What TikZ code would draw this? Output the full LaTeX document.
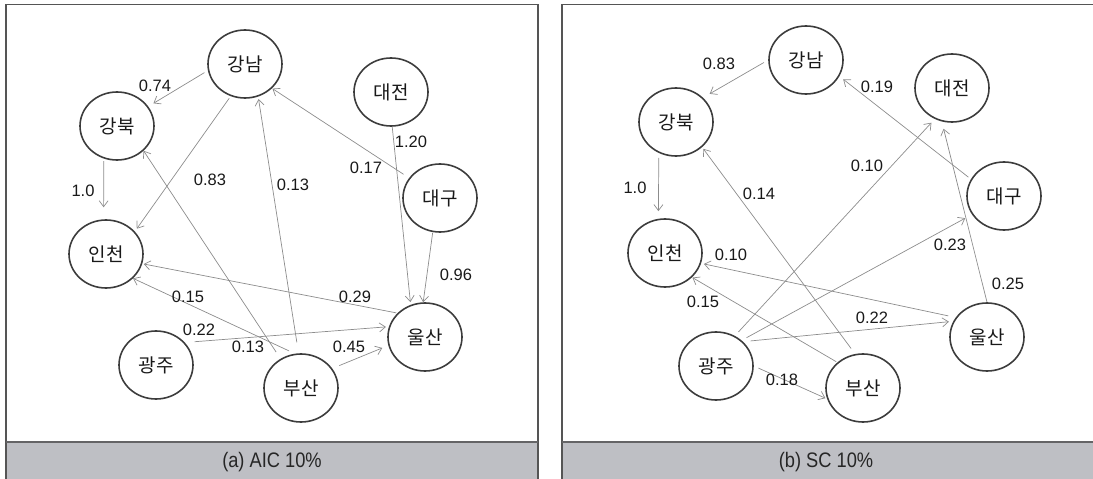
\documentclass[tikz,border=0pt]{standalone}
\usepackage{fontspec}
\setmainfont{Liberation Sans}
\newfontfamily\krfont{Noto Sans CJK KR}
\usetikzlibrary{arrows.meta,shapes.geometric}
\definecolor{edgegray}{RGB}{140,140,140}
\definecolor{circgray}{RGB}{60,60,60}
\definecolor{framegray}{RGB}{85,85,85}
\definecolor{bandgray}{RGB}{190,191,196}
\definecolor{bandline}{RGB}{100,100,102}
\definecolor{inkgray}{RGB}{25,25,25}
\newcommand{\captext}[1]{\scalebox{0.87}[1]{#1}}
\begin{document}
\begin{tikzpicture}[x=1pt,y=-1pt,
  city/.style={ellipse, draw=circgray, line width=1.6pt, minimum width=74pt,
    minimum height=68pt, inner sep=0pt, text=inkgray,
    font=\krfont\fontsize{19}{19}\selectfont},
  link/.style={draw=edgegray, line width=0.7pt,
    -{Straight Barb[length=6pt,width=9pt]}},
  wt/.style={inner sep=0pt, text=inkgray, font=\fontsize{16.5}{16.5}\selectfont},
  caption/.style={inner sep=0pt, text=black!85, font=\fontsize{21}{21}\selectfont},
  frame/.style={draw=framegray, line width=1.5pt}
]
\useasboundingbox (0,0) rectangle (1093,479);
\clip (0,0) rectangle (1093,479);

% panel frames and caption bands
\fill[bandgray] (6,442) rectangle (538,495);
\draw[frame] (6,495) -- (6,4.5) -- (538,4.5) -- (538,495);
\draw[bandline, line width=1.2pt] (6,442) -- (538,442);
\fill[bandgray] (562,442) rectangle (1100,495);
\draw[frame] (562,495) -- (562,4.5) -- (1100,4.5);
\draw[bandline, line width=1.2pt] (562,442) -- (1100,442);

\node[caption] (capa) at (272,462.5) {\captext{(a) AIC 10\%}};
\node[caption] (capb) at (826,462.5) {\captext{(b) SC 10\%}};

% ---------- (a) AIC ----------
\node[city] (aGN) at (245,64)  {강남};
\node[city] (aGB) at (117,126) {강북};
\node[city] (aDJ) at (391,92)  {대전};
\node[city] (aDG) at (440,198) {대구};
\node[city] (aIC) at (106,254) {인천};
\node[city] (aUS) at (425,337) {울산};
\node[city] (aGJ) at (156,365) {광주};
\node[city] (aBS) at (301,388) {부산};

\draw[link, shorten <=4pt, shorten >=6pt] (aGN.190) -- (aGB.32);
\draw[link, shorten <=2.5pt, shorten >=3.4pt] (aGN.246) -- (aIC.38);
\draw[link, shorten <=2.4pt, shorten >=12pt] (aGB.248) -- (aIC.94);
\draw[link, shorten <=11pt, shorten >=2.5pt] (aBS.94) -- (aGN.292);
\draw[link, shorten <=6.7pt, shorten >=0.5pt] (aDG.147) -- (aGN.318);
\draw[link, shorten >=2.7pt] (aDJ.272) -- (aUS.114);
\draw[link, shorten <=0.6pt] (aDG.258) -- (aUS.93);
\draw[link, shorten <=1.3pt, shorten >=1.5pt] (aUS.139) -- (aIC.345);
\draw[link, shorten <=6.5pt] (aBS.100) -- (aIC.318);
\draw[link, shorten <=8pt] (aBS.125) -- (aGB.317);
\draw[link, shorten <=9.8pt, shorten >=3pt] (aGJ.38) -- (aUS.164);
\draw[link, shorten <=7.6pt, shorten >=6.5pt] (aBS.32) -- (aUS.193);

\node[wt] (aw1)  at (155,86)  {0.74};
\node[wt] (aw2)  at (210,180) {0.83};
\node[wt] (aw3)  at (83,191)  {1.0};
\node[wt] (aw4)  at (293,185) {0.13};
\node[wt] (aw5)  at (366,168) {0.17};
\node[wt] (aw6)  at (411,142) {1.20};
\node[wt] (aw7)  at (456,275) {0.96};
\node[wt] (aw8)  at (355,297) {0.29};
\node[wt] (aw9)  at (188,297) {0.15};
\node[wt] (aw10) at (199,330) {0.22};
\node[wt] (aw11) at (248,347) {0.13};
\node[wt] (aw12) at (349,347) {0.45};

% ---------- (b) SC ----------
\node[city] (bGN) at (806,60)  {강남};
\node[city] (bGB) at (676,122) {강북};
\node[city] (bDJ) at (952,88)  {대전};
\node[city] (bDG) at (1004,196) {대구};
\node[city] (bIC) at (665,253) {인천};
\node[city] (bUS) at (987,337) {울산};
\node[city] (bGJ) at (716,366) {광주};
\node[city] (bBS) at (863,388) {부산};

\draw[link, shorten <=5pt, shorten >=7.7pt] (bGN.180) -- (bGB.42);
\draw[link, shorten <=5pt, shorten >=7.6pt] (bGB.241) -- (bIC.101);
\draw[link, shorten <=3.2pt, shorten >=4.8pt] (bDG.153) -- (bGN.334);
\draw[link, shorten <=5.3pt, shorten >=5pt] (bGJ.58) -- (bDJ.241);
\draw[link, shorten <=6.8pt, shorten >=2pt] (bBS.103) -- (bGB.316);
\draw[link, shorten >=7.5pt] (bUS.90) -- (bDJ.253);
\draw[link, shorten <=5.6pt, shorten >=7.7pt] (bGJ.45) -- (bDG.210);
\draw[link, shorten <=7.5pt, shorten >=2.9pt] (bUS.148) -- (bIC.344);
\draw[link, shorten <=1.4pt, shorten >=0.5pt] (bBS.135) -- (bIC.318);
\draw[link, shorten <=7.7pt, shorten >=4.4pt] (bGJ.42) -- (bUS.155);
\draw[link, shorten <=5pt, shorten >=1.8pt] (bGJ.0) -- (bBS.197);

\node[wt] (bw1)  at (719,64)  {0.83};
\node[wt] (bw2)  at (877,87)  {0.19};
\node[wt] (bw3)  at (867,166) {0.10};
\node[wt] (bw4)  at (635,188) {1.0};
\node[wt] (bw5)  at (759,194) {0.14};
\node[wt] (bw6)  at (950,245) {0.23};
\node[wt] (bw7)  at (731,255) {0.10};
\node[wt] (bw8)  at (1008,284) {0.25};
\node[wt] (bw9)  at (703,302) {0.15};
\node[wt] (bw10) at (872,318) {0.22};
\node[wt] (bw11) at (782,380) {0.18};
\end{tikzpicture}
\end{document}
